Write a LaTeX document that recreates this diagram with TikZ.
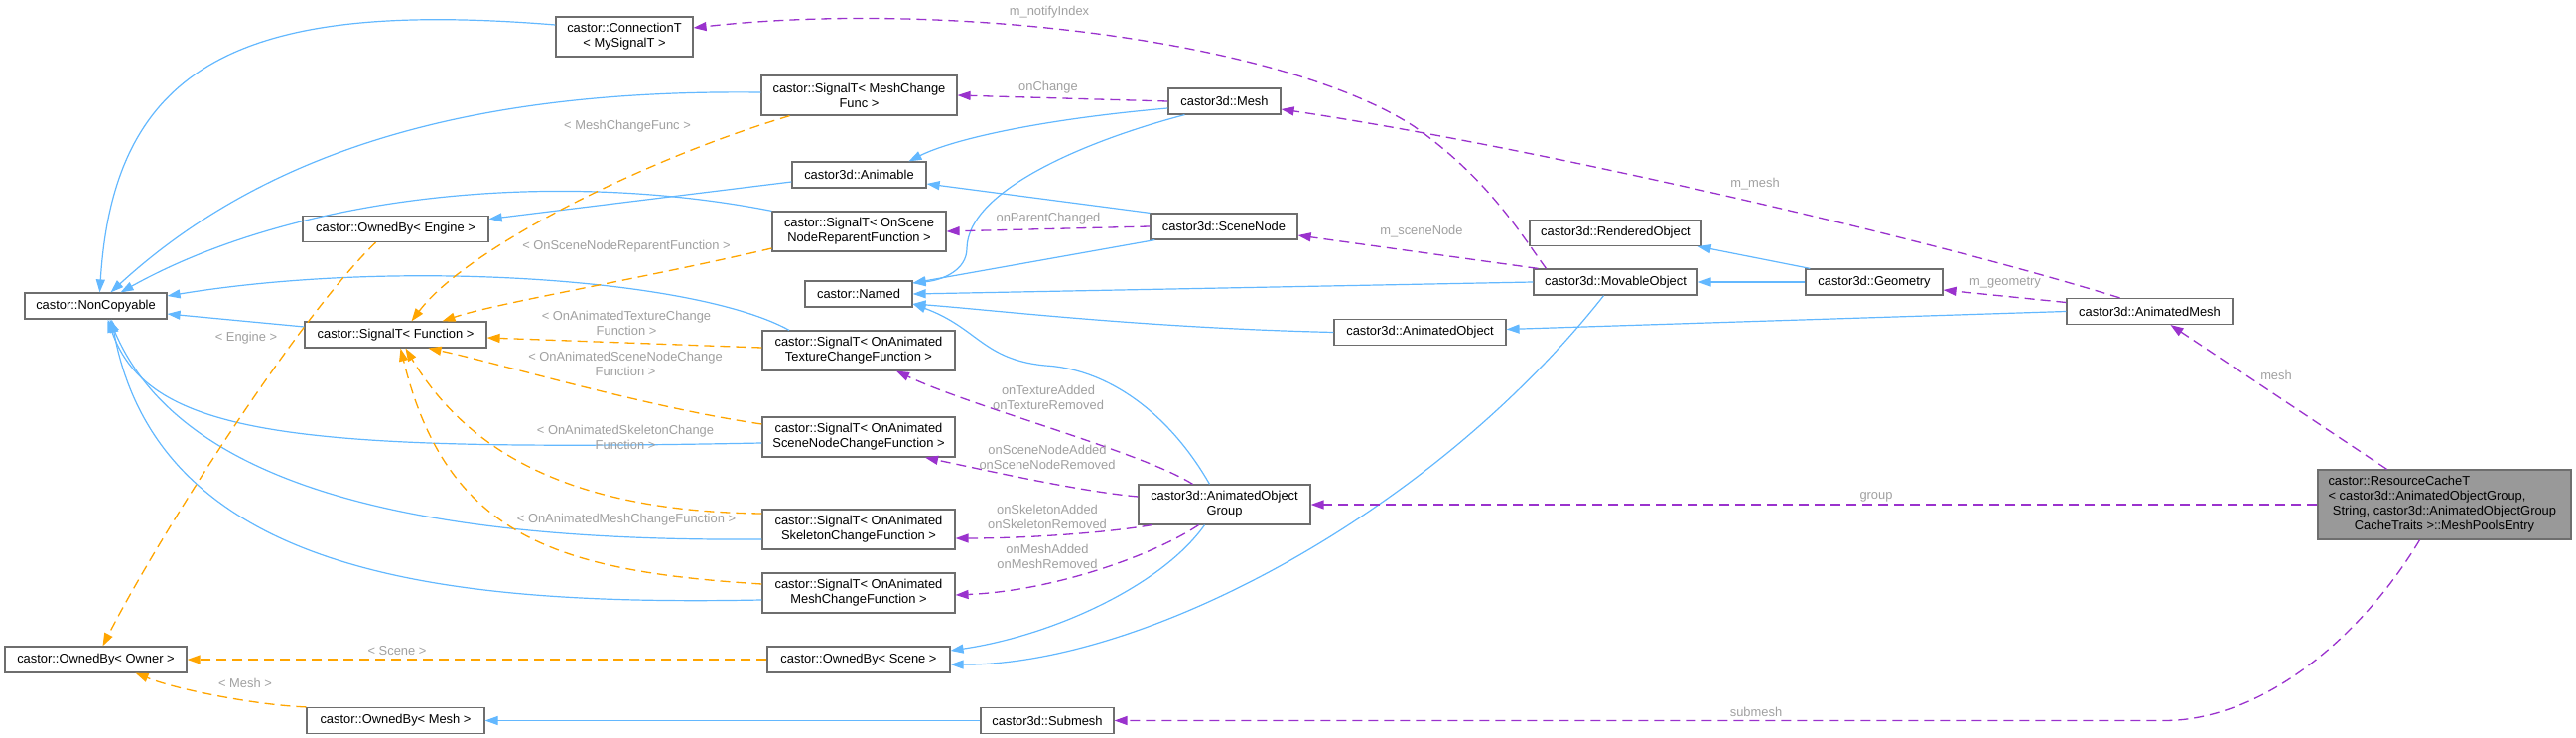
\documentclass[tikz,border=0pt]{standalone}
\usepackage{fontspec}
\setmainfont{Liberation Sans}
\usetikzlibrary{arrows.meta}
\definecolor{inhblue}{HTML}{63B8FF}
\definecolor{tplorange}{HTML}{FFA500}
\definecolor{usepurple}{HTML}{9A32CD}
\definecolor{lblgray}{HTML}{A0A0A0}
\definecolor{boxgray}{HTML}{6E6E6E}
\definecolor{cachegray}{HTML}{999999}
\begin{document}
\begin{tikzpicture}[x=1pt,y=-1pt,
	>={Triangle[length=13pt,width=9pt]},
	every node/.style={font=\fontsize{12.9}{15}\selectfont},
	cls/.style={draw=boxgray,line width=1.2pt,fill=white,minimum height=26pt,inner sep=2pt,align=center},
	lbl/.style={text=lblgray,align=center,inner sep=0pt},
	derive/.style={->,draw=inhblue,line width=1.2pt},
	tmpl/.style={->,draw=tplorange,line width=1.3pt,dash pattern=on 10pt off 6pt},
	memb/.style={->,draw=usepurple,line width=1.3pt,dash pattern=on 10pt off 6pt}]
	\useasboundingbox (0,0) rectangle (2595,743);
	% classes
	\node[cls,minimum width=143pt] (noncopy) at (96.5,308) {castor::NonCopyable};
	\node[cls,minimum width=138pt,minimum height=40pt] (conn) at (629,37) {castor::ConnectionT\\< MySignalT >};
	\node[cls,minimum width=187pt] (ownEngine) at (398.5,230.5) {castor::OwnedBy< Engine >};
	\node[cls,minimum width=183pt] (sigFunc) at (398.5,337) {castor::SignalT< Function >};
	\node[cls,minimum width=183pt] (ownOwner) at (96.5,664) {castor::OwnedBy< Owner >};
	\node[cls,minimum width=179pt] (ownMesh) at (398.5,725.5) {castor::OwnedBy< Mesh >};
	\node[cls,minimum width=197pt,minimum height=40pt] (sigMesh) at (865.5,96) {castor::SignalT< MeshChange\\Func >};
	\node[cls,minimum width=135pt] (animable) at (865.5,176) {castor3d::Animable};
	\node[cls,minimum width=175pt,minimum height=40pt] (sigReparent) at (865.5,233) {castor::SignalT< OnScene\\NodeReparentFunction >};
	\node[cls,minimum width=108pt] (named) at (865,296) {castor::Named};
	\node[cls,minimum width=194pt,minimum height=40pt] (sigTex) at (865,353) {castor::SignalT< OnAnimated\\TextureChangeFunction >};
	\node[cls,minimum width=194pt,minimum height=40pt] (sigNode) at (865,440) {castor::SignalT< OnAnimated\\SceneNodeChangeFunction >};
	\node[cls,minimum width=194pt,minimum height=40pt] (sigSkel) at (865,533) {castor::SignalT< OnAnimated\\SkeletonChangeFunction >};
	\node[cls,minimum width=194pt,minimum height=40pt] (sigMeshCh) at (865,597) {castor::SignalT< OnAnimated\\MeshChangeFunction >};
	\node[cls,minimum width=184pt] (ownScene) at (865,664) {castor::OwnedBy< Scene >};
	\node[cls,minimum width=134pt] (submesh) at (1055,725.5) {castor3d::Submesh};
	\node[cls,minimum width=113pt] (mesh) at (1233.5,102) {castor3d::Mesh};
	\node[cls,minimum width=148pt] (sceneNode) at (1233,228) {castor3d::SceneNode};
	\node[cls,minimum width=173pt,minimum height=40pt] (aog) at (1233.5,508) {castor3d::AnimatedObject\\Group};
	\node[cls,minimum width=173pt] (animObj) at (1430.5,334.5) {castor3d::AnimatedObject};
	\node[cls,minimum width=173pt] (rendered) at (1627.5,234.5) {castor3d::RenderedObject};
	\node[cls,minimum width=165pt] (movable) at (1627.5,284) {castor3d::MovableObject};
	\node[cls,minimum width=138pt] (geometry) at (1888,284) {castor3d::Geometry};
	\node[cls,minimum width=167pt] (animMesh) at (2165.5,313.5) {castor3d::AnimatedMesh};
	\node[cls,fill=cachegray,minimum width=255pt,minimum height=70pt] (cache) at (2462.5,508)
		{\makebox[234pt][l]{castor::ResourceCacheT}\\\makebox[234pt][l]{< castor3d::AnimatedObjectGroup,}\\String, castor3d::AnimatedObjectGroup\\CacheTraits >::MeshPoolsEntry};
	% inheritance
	\draw[derive] ([yshift=12pt]conn.west) .. controls (250,0) and (115,60) .. ([xshift=4pt]noncopy.north);
	\draw[derive] ([yshift=3pt]sigMesh.west) .. controls (500,90) and (280,140) .. ([xshift=15pt]noncopy.north);
	\draw[derive] (sigReparent.north west) .. controls (560,170) and (300,195) .. ([xshift=25pt]noncopy.north);
	\draw[derive] ([xshift=-70pt]sigTex.north) .. controls (700,280) and (400,260) .. ([yshift=10pt]noncopy.east);
	\draw[derive] ([yshift=8pt]sigFunc.west) -- ([yshift=-8pt]noncopy.east);
	\draw[derive] ([yshift=-6pt]sigNode.west) .. controls (300,455) and (150,440) .. ([xshift=12pt]noncopy.south);
	\draw[derive] ([yshift=-10pt]sigSkel.west) .. controls (480,545) and (190,510) .. ([xshift=14pt]noncopy.south);
	\draw[derive] ([yshift=-7pt]sigMeshCh.west) .. controls (450,610) and (160,580) .. ([xshift=16pt]noncopy.south);
	\draw[derive] ([yshift=-7pt]animable.west) -- ([yshift=10pt]ownEngine.east);
	\draw[derive] ([yshift=-7pt]mesh.west) .. controls (1050,120) and (960,140) .. ([xshift=50pt]animable.north);
	\draw[derive] ([xshift=-40pt]mesh.south) .. controls (1100,140) and (975,190) .. (974,250) .. controls (974,272) and (950,282) .. ([yshift=11pt]named.east);
	\draw[derive] (sceneNode.north west) -- ([yshift=-9pt]animable.east);
	\draw[derive] ([xshift=5pt]sceneNode.south west) -- ([yshift=11pt]named.east);
	\draw[derive] (movable.west) -- (named.east);
	\draw[derive] (animObj.west) .. controls (1150,330) and (1000,312) .. ([yshift=-10pt]named.east);
	\draw[derive] ([xshift=-15pt]aog.north) .. controls (1180,420) and (1120,372) .. (1053,368) .. controls (990,362) and (985,330) .. ([yshift=-10pt]named.east);
	\draw[derive] ([xshift=-20pt]aog.south) .. controls (1170,590) and (1060,640) .. ([yshift=9pt]ownScene.east);
	\draw[derive] ([xshift=-12pt]movable.south) .. controls (1440,520) and (1150,670) .. ([yshift=-5pt]ownScene.east);
	\draw[derive] (submesh.west) -- (ownMesh.east);
	\draw[derive] (geometry.west) -- (movable.east);
	\draw[derive] ([xshift=5pt]geometry.north west) -- ([xshift=-4pt]rendered.south east);
	\draw[derive] (animMesh.west) -- ([yshift=3pt]animObj.east);
	% templates
	\draw[tmpl] ([xshift=-20pt]ownEngine.south) .. controls (300,320) and (160,540) .. ([xshift=7pt]ownOwner.north);
	\draw[tmpl] (ownScene.west) -- (ownOwner.east);
	\draw[tmpl] (ownMesh.north west) .. controls (260,710) and (180,695) .. ([xshift=40pt]ownOwner.south);
	\draw[tmpl] ([xshift=-70pt]sigMesh.south) .. controls (650,160) and (470,250) .. ([xshift=16pt]sigFunc.north);
	\draw[tmpl] ([yshift=-17pt]sigReparent.west) .. controls (650,280) and (500,305) .. ([xshift=47pt]sigFunc.north);
	\draw[tmpl] ([yshift=3pt]sigTex.west) -- ([yshift=-3pt]sigFunc.east);
	\draw[tmpl] ([yshift=13pt]sigNode.west) .. controls (650,410) and (500,365) .. ([xshift=33pt]sigFunc.south);
	\draw[tmpl] ([yshift=16pt]sigSkel.west) .. controls (600,515) and (480,470) .. ([xshift=10pt]sigFunc.south);
	\draw[tmpl] ([yshift=9pt]sigMeshCh.west) .. controls (560,575) and (450,540) .. ([xshift=5pt]sigFunc.south);
	\node[lbl] (lEngine) at (248,340) {< Engine >};
	\node[lbl] (lScene) at (400,655) {< Scene >};
	\node[lbl] (lMesh) at (247,688) {< Mesh >};
	\node[lbl] (lMeshFunc) at (632,127) {< MeshChangeFunc >};
	\node[lbl] (lReparent) at (631,248) {< OnSceneNodeReparentFunction >};
	\node[lbl] (lTex) at (631,325) {< OnAnimatedTextureChange\\Function >};
	\node[lbl] (lNode) at (630,366) {< OnAnimatedSceneNodeChange\\Function >};
	\node[lbl] (lSkel) at (630,440) {< OnAnimatedSkeletonChange\\Function >};
	\node[lbl] (lMeshCh) at (631,523) {< OnAnimatedMeshChangeFunction >};
	% members
	\draw[memb] (mesh.west) -- (sigMesh.east);
	\draw[memb] (sceneNode.west) -- (sigReparent.east);
	\draw[memb] ([xshift=-70pt]movable.north) .. controls (1535,240) and (1500,180) .. (1424,127) .. controls (1290,40) and (950,0) .. ([yshift=9pt]conn.east);
	\draw[memb] ([xshift=5pt]movable.north west) -- ([yshift=-9pt]sceneNode.east);
	\draw[memb] ([xshift=-30pt]animMesh.north) .. controls (1935,238) and (1540,147) .. ([yshift=-8pt]mesh.east);
	\draw[memb] ([yshift=9pt]animMesh.west) -- ([yshift=-8pt]geometry.east);
	\draw[memb] ([xshift=-32pt]aog.north) .. controls (1150,455) and (980,410) .. ([xshift=38pt]sigTex.south);
	\draw[memb] ([yshift=8pt]aog.west) .. controls (1090,495) and (1000,475) .. ([xshift=67pt]sigNode.south);
	\draw[memb] ([xshift=-73pt]aog.south) .. controls (1110,537) and (1030,542) .. ([yshift=-9pt]sigSkel.east);
	\draw[memb] ([xshift=-26pt]aog.south) .. controls (1160,560) and (1060,595) .. ([yshift=-2pt]sigMeshCh.east);
	\draw[memb] (cache.west) -- (aog.east);
	\draw[memb] ([xshift=-25pt]cache.south) .. controls (2380,640) and (2280,725.5) .. (2180,725.5) -- (submesh.east);
	\draw[memb] ([xshift=-58pt]cache.north) -- ([xshift=21pt]animMesh.south);
	\node[lbl] (lNotify) at (1057,12) {m\_notifyIndex};
	\node[lbl] (lChange) at (1056,88) {onChange};
	\node[lbl] (lParent) at (1056,220) {onParentChanged};
	\node[lbl] (lSceneNode) at (1432,233) {m\_sceneNode};
	\node[lbl] (lMMesh) at (1768,185) {m\_mesh};
	\node[lbl] (lGeom) at (2020,285) {m\_geometry};
	\node[lbl] (lTexAdd) at (1056,400) {onTextureAdded\\onTextureRemoved};
	\node[lbl] (lNodeAdd) at (1055,460) {onSceneNodeAdded\\onSceneNodeRemoved};
	\node[lbl] (lSkelAdd) at (1055,520) {onSkeletonAdded\\onSkeletonRemoved};
	\node[lbl] (lMeshAdd) at (1055,560) {onMeshAdded\\onMeshRemoved};
	\node[lbl] (lGroup) at (1890,500) {group};
	\node[lbl] (lSubmesh) at (1769,717) {submesh};
	\node[lbl] (lMeshRef) at (2293,378) {mesh};
\end{tikzpicture}
\end{document}
